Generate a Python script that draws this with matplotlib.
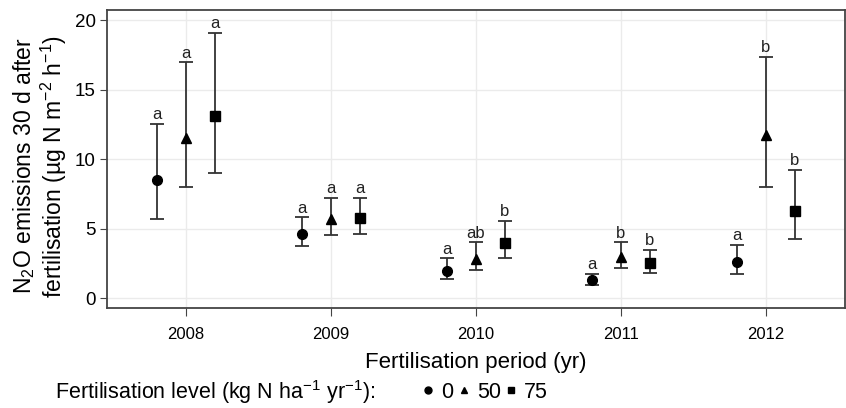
import numpy as np
import matplotlib
matplotlib.use('Agg')
import matplotlib.pyplot as plt
from matplotlib.lines import Line2D

plt.rcParams['font.family'] = ['Liberation Sans', 'DejaVu Sans']
plt.rcParams['mathtext.fontset'] = 'custom'
plt.rcParams['mathtext.rm'] = 'Liberation Sans'
plt.rcParams['mathtext.default'] = 'regular'

years = [2008, 2009, 2010, 2011, 2012]
levels = ['0', '50', '75']

# means, lower and upper error bar ends per fertilisation level
mean_0 = [8.48, 4.62, 1.98, 1.27, 2.61]
low_0 = [5.72, 3.71, 1.39, 0.96, 1.75]
high_0 = [12.54, 5.82, 2.85, 1.75, 3.83]
letters_0 = ['a', 'a', 'a', 'a', 'a']

mean_50 = [11.5, 5.67, 2.82, 2.92, 11.73]
low_50 = [7.97, 4.53, 2.03, 2.16, 7.97]
high_50 = [16.95, 7.23, 4.0, 4.02, 17.36]
letters_50 = ['a', 'a', 'ab', 'b', 'b']

mean_75 = [13.07, 5.77, 3.97, 2.51, 6.25]
low_75 = [9.0, 4.62, 2.87, 1.8, 4.24]
high_75 = [19.08, 7.23, 5.57, 3.47, 9.22]
letters_75 = ['a', 'a', 'b', 'b', 'b']

series = [
    (mean_0, low_0, high_0, letters_0, 'o', -0.2),
    (mean_50, low_50, high_50, letters_50, '^', 0.0),
    (mean_75, low_75, high_75, letters_75, 's', 0.2),
]

fig = plt.figure(figsize=(8.46, 4.08), dpi=100)
ax = fig.add_axes([0.1265, 0.245, 0.872, 0.7305])

x = np.array(years, dtype=float)
for mean, low, high, letters, mk, off in series:
    mean = np.array(mean)
    err = [mean - np.array(low), np.array(high) - mean]
    ax.errorbar(x + off, mean, yerr=err, fmt=mk, color='black', ecolor='#333333',
                elinewidth=1.3, capsize=4.7, capthick=1.3, markersize=7, zorder=3)
    for xi, hi, lab in zip(x + off, high, letters):
        ax.annotate(lab, xy=(xi, hi), xytext=(0, 1), textcoords='offset points',
                    ha='center', va='bottom', fontsize=12, color='#222222')

ax.set_xlim(2007.455, 2012.545)
ax.set_ylim(-0.72, 20.72)
ax.set_xticks(years)
ax.set_xticklabels([str(y) for y in years])
ax.set_yticks([0, 5, 10, 15, 20])
ax.grid(True, color='#ebebeb', linewidth=1)
ax.set_axisbelow(True)
for s in ax.spines.values():
    s.set_color('#444444')
    s.set_linewidth(1.3)
ax.tick_params(axis='x', labelsize=12, length=6, color='#444444', pad=8)
ax.tick_params(axis='y', labelsize=13.5, length=5, color='#444444', pad=3)

ax.set_xlabel('Fertilisation period (yr)', fontsize=16, labelpad=7)
ax.set_ylabel('N$_2$O emissions 30 d after\nfertilisation (µg N m$^{-2}$ h$^{-1}$)',
              fontsize=16.5, linespacing=1.1)
ax.yaxis.label.set_va('center')
ax.yaxis.set_label_coords(-0.0908, 0.4765)

fig.text(0.065, 0.039, 'Fertilisation level (kg N ha$^{-1}$ yr$^{-1}$):', fontsize=15.5,
         va='center', ha='left')
handles = [Line2D([], [], marker=m, color='black', linestyle='none', markersize=5)
           for m in ['o', '^', 's']]
fig.legend(handles, levels, loc='center left', bbox_to_anchor=(0.4995, 0.039), ncol=3,
           frameon=False, fontsize=15.5, handlelength=0.5, handletextpad=0.35,
           columnspacing=0.25, borderpad=0, borderaxespad=0)

fig.savefig('out.png', dpi=100)
